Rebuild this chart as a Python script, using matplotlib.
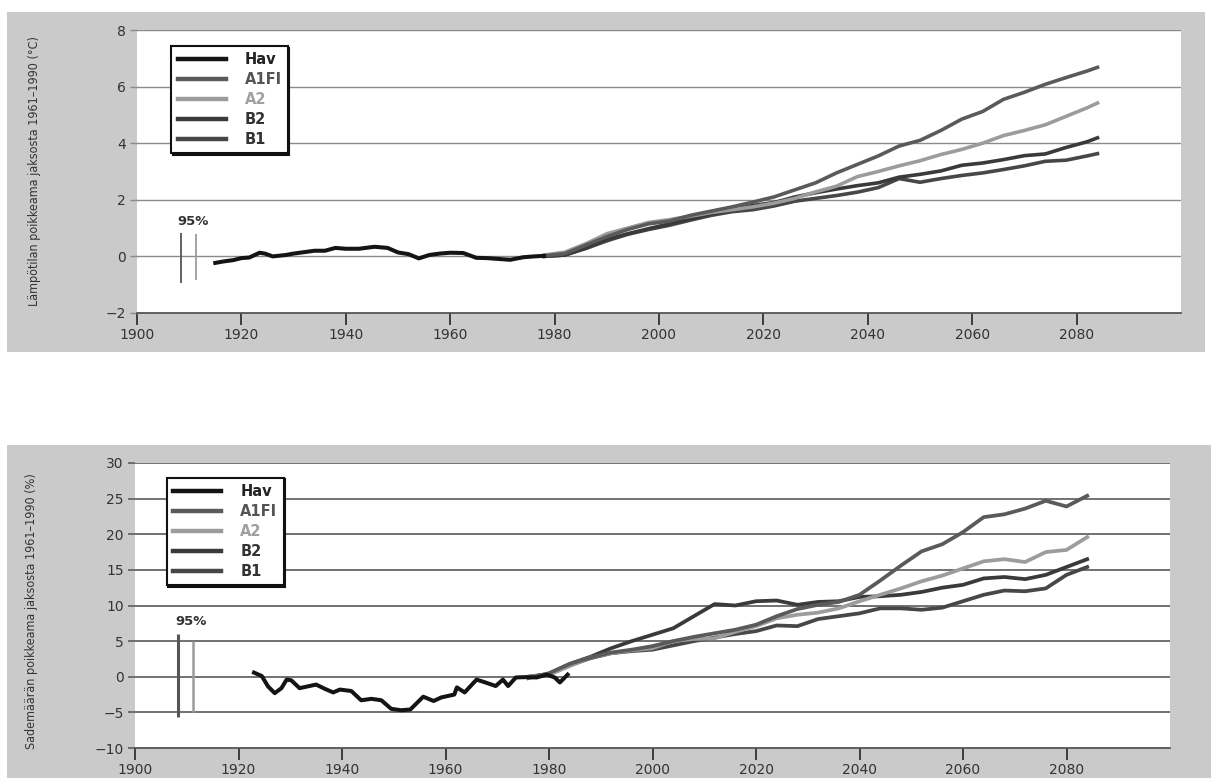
import matplotlib
matplotlib.use("Agg")
import matplotlib.pyplot as plt
from matplotlib.patches import Rectangle
from matplotlib.lines import Line2D

# ---------------- data ----------------
# Temperature anomaly (°C), observed
temp_hist_years = [1915, 1916.5, 1918.5, 1920, 1921.5, 1923.5, 1924.5, 1926, 1928.5, 1930,
                   1932, 1934, 1936, 1938, 1940, 1942.5, 1945.5, 1948, 1950, 1952,
                   1954, 1956, 1958, 1960, 1962.5, 1965, 1967, 1970, 1971.5, 1974,
                   1976, 1978]
temp_hav = [-0.23, -0.18, -0.13, -0.06, -0.04, 0.13, 0.10, 0.00, 0.05, 0.10,
            0.15, 0.20, 0.20, 0.30, 0.27, 0.27, 0.34, 0.30, 0.14, 0.08,
            -0.07, 0.05, 0.10, 0.13, 0.12, -0.05, -0.06, -0.10, -0.12, -0.03,
            0.00, 0.02]

# Temperature anomaly (°C), scenarios
temp_scen_years = [1978, 1982, 1986, 1990, 1994, 1998, 2002, 2006, 2010, 2014,
                   2018, 2022, 2026, 2030, 2034, 2038, 2042, 2046, 2050, 2054,
                   2058, 2062, 2066, 2070, 2074, 2078, 2082, 2084]
temp_a1fi = [0.02, 0.10, 0.40, 0.70, 0.95, 1.15, 1.25, 1.45, 1.60, 1.75,
             1.92, 2.10, 2.35, 2.60, 2.95, 3.25, 3.55, 3.90, 4.10, 4.45,
             4.85, 5.12, 5.55, 5.80, 6.08, 6.32, 6.55, 6.68]
temp_a2 = [0.05, 0.15, 0.45, 0.80, 1.00, 1.20, 1.30, 1.42, 1.55, 1.65,
           1.75, 1.88, 2.05, 2.28, 2.48, 2.82, 3.00, 3.20, 3.38, 3.60,
           3.78, 4.00, 4.27, 4.45, 4.65, 4.95, 5.25, 5.42]
temp_b2 = [0.00, 0.05, 0.30, 0.60, 0.80, 0.98, 1.15, 1.32, 1.50, 1.65,
           1.80, 1.90, 2.10, 2.25, 2.38, 2.50, 2.60, 2.80, 2.90, 3.02,
           3.22, 3.30, 3.42, 3.56, 3.62, 3.85, 4.05, 4.19]
temp_b1 = [0.00, 0.05, 0.28, 0.55, 0.78, 0.95, 1.10, 1.28, 1.45, 1.58,
           1.65, 1.78, 1.95, 2.05, 2.15, 2.27, 2.43, 2.75, 2.62, 2.75,
           2.86, 2.95, 3.07, 3.20, 3.36, 3.40, 3.55, 3.63]

# Precipitation anomaly (%), observed
prec_hist_years = [1923, 1924.5, 1925.7, 1927, 1928.3, 1929.3, 1930.2, 1931.8, 1933.4, 1935,
                   1936.7, 1938.3, 1939.6, 1941.8, 1943.7, 1945.7, 1947.6, 1949.5, 1951.4, 1953.2,
                   1955.7, 1957.7, 1959.2, 1961.7, 1962.2, 1963.7, 1966, 1967.7, 1969.7, 1971.1,
                   1972.1, 1973.6, 1975.6, 1977.6, 1979.6, 1981.1, 1982.1, 1983.6]
prec_hav = [0.58, 0.10, -1.35, -2.30, -1.60, -0.40, -0.50, -1.60, -1.35, -1.10,
            -1.70, -2.20, -1.80, -2.00, -3.30, -3.10, -3.30, -4.50, -4.70, -4.60,
            -2.80, -3.40, -2.90, -2.50, -1.50, -2.20, -0.40, -0.80, -1.30, -0.40,
            -1.30, -0.10, -0.05, -0.10, 0.30, -0.10, -0.80, 0.30]

# Precipitation anomaly (%), scenarios
prec_scen_years = [1976, 1980, 1984, 1988, 1992, 1996, 2000, 2004, 2008, 2012,
                   2016, 2020, 2024, 2028, 2032, 2036, 2040, 2044, 2048, 2052,
                   2056, 2060, 2064, 2068, 2072, 2076, 2080, 2084]
prec_a1fi = [-0.2, 0.5, 1.8, 2.7, 3.4, 3.8, 4.3, 5.0, 5.6, 6.1,
             6.6, 7.3, 8.5, 9.5, 10.1, 10.5, 11.5, 13.5, 15.6, 17.6,
             18.6, 20.3, 22.4, 22.8, 23.6, 24.7, 23.9, 25.4]
prec_a2 = [0.0, 0.3, 1.5, 2.7, 3.3, 3.7, 4.0, 5.0, 5.3, 5.4,
           6.3, 7.1, 8.2, 8.7, 9.0, 9.6, 10.6, 11.5, 12.4, 13.4,
           14.2, 15.2, 16.2, 16.5, 16.1, 17.5, 17.8, 19.6]
prec_b2 = [0.0, 0.4, 1.8, 2.8, 4.0, 5.0, 5.9, 6.8, 8.5, 10.2,
           10.0, 10.6, 10.7, 10.1, 10.5, 10.6, 11.2, 11.3, 11.5, 11.9,
           12.5, 12.9, 13.8, 14.0, 13.7, 14.3, 15.4, 16.5]
prec_b1 = [0.0, 0.3, 1.6, 2.6, 3.3, 3.6, 3.8, 4.4, 5.0, 5.5,
           6.0, 6.4, 7.2, 7.1, 8.1, 8.5, 8.9, 9.6, 9.6, 9.4,
           9.7, 10.6, 11.5, 12.1, 12.0, 12.4, 14.3, 15.4]

# 95 % confidence bars: (x, low, high)
temp_ci_dark = (1908.5, -0.95, 0.83)
temp_ci_light = (1911.3, -0.83, 0.79)
prec_ci_dark = (1908.3, -5.7, 6.0)
prec_ci_light = (1911.2, -4.9, 5.0)

series_names = ["Hav", "A1FI", "A2", "B2", "B1"]
x_ticks = [1900, 1920, 1940, 1960, 1980, 2000, 2020, 2040, 2060, 2080]
temp_yticks = [-2, 0, 2, 4, 6, 8]
prec_yticks = [-10, -5, 0, 5, 10, 15, 20, 25, 30]

temp_ylabel = "Lämpötilan poikkeama jaksosta 1961\u20131990 (°C)"
prec_ylabel = "Sademäärän poikkeama jaksosta 1961\u20131990 (%)"

# ---------------- styling ----------------
W, H = 1211, 778
BG = "#cacaca"
line_colors = {"Hav": "#141414", "A1FI": "#5a5a5a", "A2": "#9c9c9c",
               "B2": "#3a3a3a", "B1": "#474747"}
text_colors = {"Hav": "#222222", "A1FI": "#555555", "A2": "#a0a0a0",
               "B2": "#333333", "B1": "#333333"}

plt.rcParams["font.family"] = ["DejaVu Sans"]

fig = plt.figure(figsize=(W / 100, H / 100), dpi=100)
fig.patch.set_facecolor("white")


def px_rect(x0, y0, x1, y1):
    return Rectangle((x0 / W, 1 - y1 / H), (x1 - x0) / W, (y1 - y0) / H,
                     transform=fig.transFigure, facecolor=BG, edgecolor="none",
                     zorder=-10)


fig.add_artist(px_rect(7, 12, 1205, 352))
fig.add_artist(px_rect(7, 445, 1211, 778))


def px_axes(x0, y0, x1, y1):
    return fig.add_axes([x0 / W, 1 - y1 / H, (x1 - x0) / W, (y1 - y0) / H])


def style_axes(ax, yticks, ylim, grid_color, grid_lw, legend_anchor, ci_dark, ci_light,
               ci_widths, pct_y):
    ax.set_facecolor("white")
    ax.set_xlim(1900, 2100)
    ax.set_ylim(*ylim)
    ax.set_xticks(x_ticks)
    ax.set_yticks(yticks)
    for s in ("left", "right", "top"):
        ax.spines[s].set_visible(False)
    ax.spines["bottom"].set_color("#555555")
    ax.spines["bottom"].set_linewidth(1.3)
    for y in yticks[1:]:
        ax.axhline(y, color=grid_color, lw=grid_lw, zorder=1)
    ax.tick_params(axis="y", length=5, width=grid_lw, color=grid_color,
                   labelsize=10, labelcolor="#333333", pad=3)
    ax.tick_params(axis="x", length=8.5, width=1.3, color="#333333",
                   labelsize=10, labelcolor="#333333", pad=2)
    # 95 % bars
    ax.plot([ci_dark[0]] * 2, ci_dark[1:], color="#555555", lw=ci_widths[0],
            solid_capstyle="butt", zorder=3)
    ax.plot([ci_light[0]] * 2, ci_light[1:], color="#9c9c9c", lw=ci_widths[1],
            solid_capstyle="butt", zorder=3)
    ax.text(1910.8, pct_y, "95%", ha="center", va="center", fontsize=9.5,
            fontweight="bold", color="#333333")
    # legend
    handles = [Line2D([], [], color=line_colors[n], lw=3.2) for n in series_names]
    leg = ax.legend(handles, series_names, loc="upper left",
                    bbox_to_anchor=legend_anchor, frameon=True, fancybox=False,
                    framealpha=1, edgecolor="#111111", handlelength=3.3,
                    handletextpad=1.3, labelspacing=0.34, borderpad=0.42,
                    borderaxespad=0.0,
                    shadow={"ox": 1.0, "oy": -1.0, "color": "#111111", "alpha": 1},
                    prop={"weight": "bold", "size": 10.5})
    leg.get_frame().set_linewidth(1.5)
    for t, n in zip(leg.get_texts(), series_names):
        t.set_color(text_colors[n])
    leg.set_zorder(10)


# ---------- temperature panel ----------
ax1 = px_axes(137, 30, 1181, 313)
ax1.plot(temp_scen_years, temp_b1, color=line_colors["B1"], lw=2.6, zorder=4)
ax1.plot(temp_scen_years, temp_b2, color=line_colors["B2"], lw=2.6, zorder=4)
ax1.plot(temp_scen_years, temp_a2, color=line_colors["A2"], lw=2.6, zorder=4)
ax1.plot(temp_scen_years, temp_a1fi, color=line_colors["A1FI"], lw=2.6, zorder=4)
ax1.plot(temp_hist_years, temp_hav, color=line_colors["Hav"], lw=2.9, zorder=5)
style_axes(ax1, temp_yticks, (-2, 8), "#8a8a8a", 1.0, (0.033, 0.943),
           temp_ci_dark, temp_ci_light, (1.3, 1.3), 1.25)
fig.text(35 / W, 1 - 171 / H, temp_ylabel, rotation=90, ha="center", va="center",
         fontsize=9, color="#333333", stretch="condensed")

# ---------- precipitation panel ----------
ax2 = px_axes(135, 463, 1170, 748)
ax2.plot(prec_scen_years, prec_b1, color=line_colors["B1"], lw=2.7, zorder=4)
ax2.plot(prec_scen_years, prec_b2, color=line_colors["B2"], lw=2.7, zorder=4)
ax2.plot(prec_scen_years, prec_a2, color=line_colors["A2"], lw=2.7, zorder=4)
ax2.plot(prec_scen_years, prec_a1fi, color=line_colors["A1FI"], lw=2.7, zorder=4)
ax2.plot(prec_hist_years, prec_hav, color=line_colors["Hav"], lw=2.9, zorder=5)
style_axes(ax2, prec_yticks, (-10, 30), "#666666", 1.3, (0.031, 0.947),
           prec_ci_dark, prec_ci_light, (2.2, 1.8), 7.8)
fig.text(32 / W, 1 - 611 / H, prec_ylabel, rotation=90, ha="center", va="center",
         fontsize=9, color="#333333", stretch="condensed")

fig.savefig("out.png", dpi=100)
